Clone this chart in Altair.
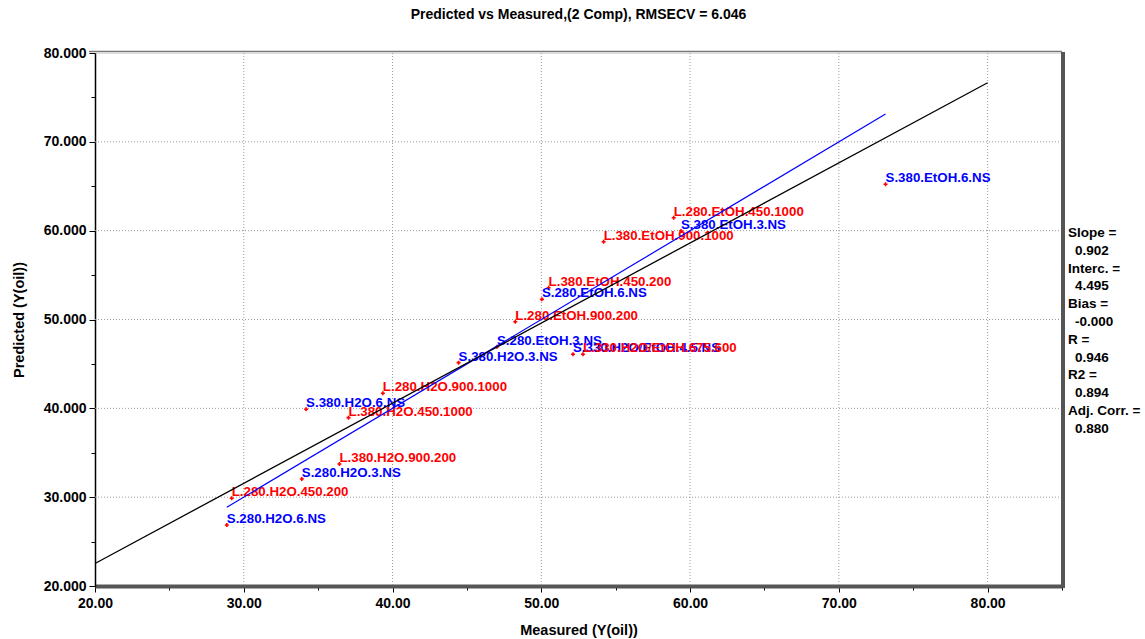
import altair as alt
import pandas as pd

# Sample names, measured (reference) and cross-validated predicted oil yield
names = [
    "S.280.H2O.6.NS", "L.280.H2O.450.200", "S.280.H2O.3.NS", "L.380.H2O.900.200",
    "S.380.H2O.6.NS", "L.380.H2O.450.1000", "L.280.H2O.900.1000", "S.380.H2O.3.NS",
    "S.280.EtOH.3.NS", "S.330.H2O/EtOH.4.5.NS", "L.330.H2O/EtOH.675.600",
    "L.280.EtOH.900.200", "S.280.EtOH.6.NS", "L.380.EtOH.450.200",
    "L.380.EtOH.900.1000", "L.280.EtOH.450.1000", "S.380.EtOH.3.NS", "S.380.EtOH.6.NS",
]
measured = [28.86, 29.19, 33.90, 36.43, 34.19, 37.04, 39.35, 44.44, 47.02,
            52.13, 52.80, 48.25, 50.04, 50.49, 54.19, 58.90, 59.39, 73.14]
predicted = [26.87, 29.87, 32.05, 33.73, 39.89, 38.95, 41.69, 45.14, 46.94,
             46.08, 46.08, 49.75, 52.27, 53.58, 58.76, 61.46, 59.96, 65.22]

# Regression statistics shown at the right
slope = 0.902
intercept = 4.495
stat_names = ["Slope =", "Interc. =", "Bias =", "R =", "R2 =", "Adj. Corr. ="]
stat_values = ["0.902", "4.495", "-0.000", "0.946", "0.894", "0.880"]

# Axis ticks: labelled every 10, minor ticks every 5
x_ticks = list(range(20, 86, 5))
y_ticks = list(range(20, 81, 5))
x_grid = [30, 40, 50, 60, 70, 80]
y_grid = [30, 40, 50, 60, 70]

FONT = "Liberation Sans"
W, H = 967, 533

df = pd.DataFrame({"name": names, "measured": measured, "predicted": predicted})
df["group"] = df["name"].str[0]

# target line (predicted = measured) over the measured range
lo, hi = min(measured), max(measured)
target = pd.DataFrame({"measured": [lo, hi], "predicted": [lo, hi]})
# fitted regression line across the axis range
reg = pd.DataFrame({"measured": [20.0, 80.0],
                    "predicted": [intercept + slope * 20.0, intercept + slope * 80.0]})

# stat block rows: name line then indented value line
stat_rows = []
for i, (n, v) in enumerate(zip(stat_names, stat_values)):
    stat_rows.append({"t": n, "px": W + 6, "py": 180 + (2 * i) * 17.8})
    stat_rows.append({"t": v, "px": W + 13, "py": 180 + (2 * i + 1) * 17.8})
stats = pd.DataFrame(stat_rows)

tick_cond = {"condition": {"test": "datum.value % 10 == 0", "value": 6}, "value": 4}

x_enc = alt.X(
    "measured:Q",
    scale=alt.Scale(domain=[20, 85], nice=False, zero=False),
    axis=alt.Axis(
        title="Measured (Y(oil))",
        values=x_ticks,
        labelExpr="datum.value % 10 == 0 ? format(datum.value, '.2f') : ''",
        grid=False, tickSize=tick_cond,
        domainColor="#555555", domainWidth=4,
        tickColor="#000000", labelPadding=4,
        labelFont=FONT, labelFontSize=14, labelFontWeight="bold", labelColor="#000",
        titleFont=FONT, titleFontSize=14.5, titleFontWeight="bold", titleColor="#000",
        titlePadding=13, labelFlush=False, labelOverlap=False,
    ),
)
y_enc = alt.Y(
    "predicted:Q",
    scale=alt.Scale(domain=[20, 80], nice=False, zero=False),
    axis=alt.Axis(
        title="Predicted (Y(oil))",
        values=y_ticks,
        labelExpr="datum.value % 10 == 0 ? format(datum.value, '.3f') : ''",
        grid=False, tickSize=tick_cond,
        domainColor="#000000", domainWidth=1.5,
        tickColor="#000000", labelPadding=3,
        labelFont=FONT, labelFontSize=14, labelFontWeight="bold", labelColor="#000",
        titleFont=FONT, titleFontSize=14.5, titleFontWeight="bold", titleColor="#000",
        titlePadding=17, labelFlush=False, labelOverlap=False,
    ),
)

# dotted grid on the major values
vgrid = alt.Chart(pd.DataFrame({"measured": x_grid})).mark_rule(
    color="#9a9a9a", strokeDash=[1, 2], strokeWidth=1
).encode(x=x_enc)
hgrid = alt.Chart(pd.DataFrame({"predicted": y_grid})).mark_rule(
    color="#9a9a9a", strokeDash=[1, 2], strokeWidth=1
).encode(y=y_enc)

points = alt.Chart(df).mark_point(
    shape="cross", filled=True, size=16, color="#ff0000", opacity=1
).encode(x=x_enc, y=y_enc)

labels = alt.Chart(df).mark_text(
    align="left", baseline="alphabetic", dy=-2, font=FONT, fontSize=13.3, fontWeight="bold"
).encode(
    x="measured:Q", y="predicted:Q", text="name:N",
    color=alt.Color("group:N", scale=alt.Scale(domain=["S", "L"], range=["#0000ff", "#ff0000"]),
                    legend=None),
)

target_line = alt.Chart(target).mark_line(color="#0000ff", strokeWidth=1.2).encode(
    x="measured:Q", y="predicted:Q")
reg_line = alt.Chart(reg).mark_line(color="#000000", strokeWidth=1.3).encode(
    x="measured:Q", y="predicted:Q")

stat_text = alt.Chart(stats).mark_text(
    align="left", baseline="middle", font=FONT, fontSize=13.5, fontWeight="bold", color="#000"
).encode(
    x=alt.X("px:Q", scale=None), y=alt.Y("py:Q", scale=None), text="t:N")

# heavier right edge and a grey top edge of the plot frame
frame_right = alt.Chart(pd.DataFrame({"a": [0]})).mark_rule(
    color="#555555", strokeWidth=4
).encode(x=alt.value(W + 1), y=alt.value(-1), y2=alt.value(H + 2))
frame_top = alt.Chart(pd.DataFrame({"a": [0]})).mark_rule(
    color="#777777", strokeWidth=1.5
).encode(x=alt.value(-6), x2=alt.value(W), y=alt.value(-1.5))

chart = alt.layer(
    vgrid, hgrid, points, labels, target_line, reg_line, stat_text, frame_top, frame_right
).properties(
    width=W, height=H,
    title=alt.TitleParams(
        "Predicted vs Measured,(2 Comp), RMSECV = 6.046",
        font=FONT, fontSize=14, fontWeight="bold", color="#000",
        anchor="middle", offset=24,
    ),
    autosize=alt.AutoSizeParams(type="none"),
    padding={"left": 95, "top": 53, "right": 83, "bottom": 53},
).configure_view(
    stroke="#222222", strokeWidth=2
).configure(background="#ffffff")

chart.save("out.html", embed_options={"renderer": "svg", "actions": False})
